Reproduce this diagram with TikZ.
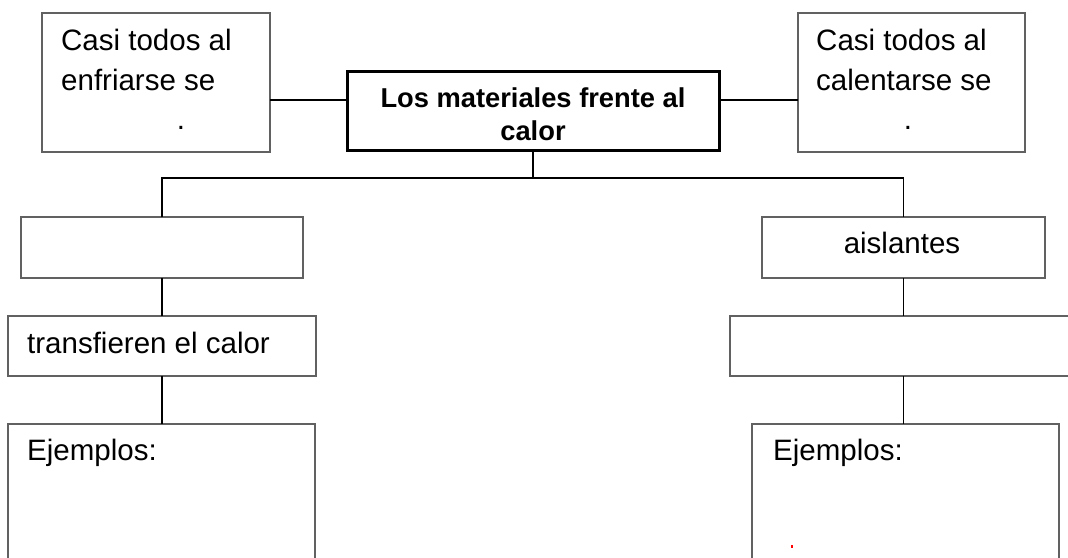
\documentclass[tikz,border=0pt]{standalone}
\usepackage{fontspec}
\setmainfont{Liberation Sans}
\begin{document}
\begin{tikzpicture}[x=1pt,y=-1pt,
  box/.style={draw=black!62, line width=1.4pt, rectangle, inner sep=0pt, outer sep=0pt, anchor=north west},
  titlebox/.style={draw=black, line width=3pt, rectangle, inner sep=0pt, outer sep=0pt, anchor=north west},
  conn/.style={draw=black, line width=1.3pt},
  txt/.style={inner sep=0pt, anchor=base west, font=\fontsize{29.5}{40}\selectfont},
  ctxt/.style={inner sep=0pt, anchor=base, font=\fontsize{29.5}{40}\selectfont},
  ttxt/.style={inner sep=0pt, anchor=base, font=\fontsize{27.3}{33}\selectfont\bfseries}]
\useasboundingbox (0,0) rectangle (1068,557);
\clip (0,0) rectangle (1068,557);
\fill[white] (0,0) rectangle (1068,557);
% boxes
\node[box, minimum width=228, minimum height=139] (tl) at (42,13) {};
\node[box, minimum width=227, minimum height=139] (tr) at (798,13) {};
\node[titlebox, minimum width=372, minimum height=79] (title) at (347,71) {};
\node[box, minimum width=282, minimum height=61] (lb1) at (21,217) {};
\node[box, minimum width=308, minimum height=60] (lb2) at (8,316) {};
\node[box, minimum width=307, minimum height=160] (lb3) at (8,424) {};
\node[box, minimum width=283, minimum height=61] (rb1) at (762,217) {};
\node[box, minimum width=360, minimum height=60] (rb2) at (730,316) {};
\node[box, minimum width=307, minimum height=160] (rb3) at (752,424) {};
% texts
\node[txt] (t1) at (61,50) {Casi todos al};
\node[txt] (t2) at (61,90) {enfriarse se};
\node[ctxt] (t3) at (181,129) {.};
\node[txt] (t4) at (816,50) {Casi todos al};
\node[txt] (t5) at (816,90) {calentarse se};
\node[ctxt] (t6) at (908,129) {.};
\node[ttxt] (t7) at (533,107) {Los materiales frente al};
\node[ttxt] (t8) at (533,140) {calor};
\node[ctxt] (t9) at (902,253) {aislantes};
\node[txt] (t10) at (27,353) {transfieren el calor};
\node[txt] (t11) at (27,460) {Ejemplos:};
\node[txt] (t12) at (773,460) {Ejemplos:};
\fill[red] (791.3,544.5) rectangle (792.7,548) ;
% connectors
\coordinate (cl) at (270,100);
\coordinate (cr) at (798,100);
\coordinate (bus) at (533,178);
\draw[conn] (cl) -- (cl -| title.west);
\draw[conn] (cr) -- (cr -| title.east);
\draw[conn] (title.south) -- (title.south |- bus);
\draw[conn] (lb1.north) |- (title.south |- bus) -| (rb1.north);
\draw[conn] (lb1.south) -- (lb1.south |- lb2.north);
\draw[conn] (lb2.south) -- (lb2.south |- lb3.north);
\draw[conn] (rb1.south) -- (rb1.south |- rb2.north);
\draw[conn] (rb1.south |- rb2.south) -- (rb1.south |- rb3.north);
\end{tikzpicture}
\end{document}
